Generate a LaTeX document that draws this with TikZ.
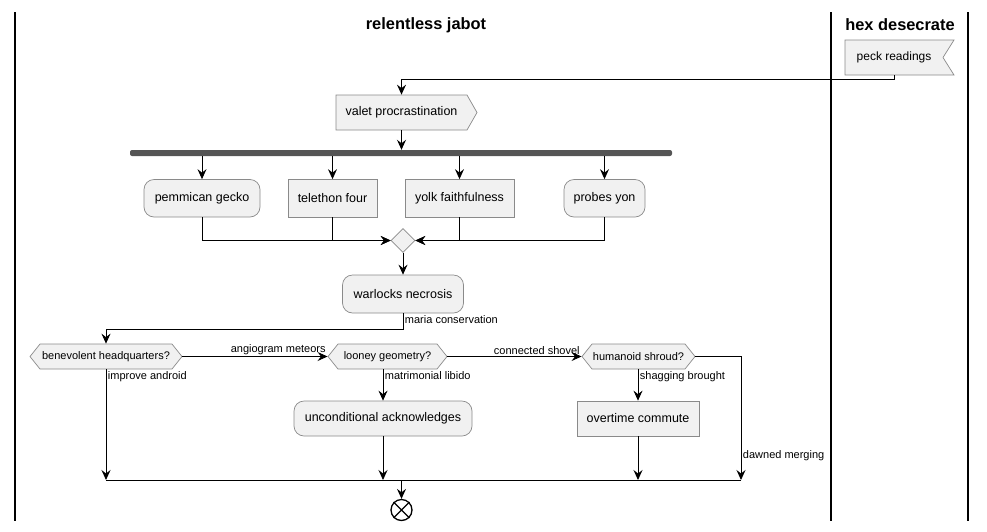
\documentclass[tikz,border=0pt]{standalone}
\usepackage{fontspec}
\setmainfont{Liberation Sans}
\usetikzlibrary{arrows.meta,shapes.symbols,shapes.geometric}
\definecolor{boxfill}{HTML}{F1F1F1}
\definecolor{boxline}{HTML}{8A8A8A}
\definecolor{barfill}{HTML}{555555}

\begin{document}
\begin{tikzpicture}[x=1pt,y=-1pt,
  box/.style={draw=boxline,fill=boxfill,line width=0.7pt,inner sep=0pt,
    font=\fontsize{12.5}{14}\selectfont},
  act/.style={box,rounded corners=10pt},
  task/.style={box},
  hex/.style={box,signal,signal to=east and west,signal pointer angle=102.7,
    minimum height=25pt,font=\fontsize{11}{13}\selectfont},
  arr/.style={-{Stealth[length=10pt,width=9pt,inset=3.5pt]},line width=0.9pt},
  lbl/.style={font=\fontsize{11}{13}\selectfont,inner sep=1.5pt},
  lane/.style={line width=1.4pt},
  title/.style={font=\bfseries\fontsize{16.4}{19}\selectfont}]
  \useasboundingbox (0,0) rectangle (987,531);
  % swimlanes
  \draw[lane] (15,12) -- (15,521);
  \draw[lane] (831,12) -- (831,521);
  \draw[lane] (968,12) -- (968,521);
  \node[title] (t1) at (426,25) {relentless jabot};
  \node[title] (t2) at (900,25) {hex desecrate};
  % activities
  \node[box,signal,signal to=nowhere,signal from=east,signal pointer angle=115.7,
    minimum width=109pt,minimum height=35pt,font=\fontsize{12}{14}\selectfont] (01) at (894,57.5) {peck readings};
  \node[box,signal,signal to=east,signal pointer angle=120.5,minimum width=141pt,
    minimum height=35pt] (11) at (401.5,112.5) {valet procrastination};
  \node[fill=barfill,rounded corners=2pt,minimum width=542pt,minimum height=6pt,
    inner sep=0pt] (21) at (401,153) {};
  \node[act,minimum width=116pt,minimum height=37.5pt] (31) at (202,198.25) {pemmican gecko};
  \node[task,minimum width=89pt,minimum height=37.5pt] (32) at (332.5,198.25) {telethon four};
  \node[task,minimum width=109pt,minimum height=37.5pt] (33) at (459.5,198.25) {yolk faithfulness};
  \node[act,minimum width=81pt,minimum height=37.5pt] (34) at (604.5,198.25) {probes yon};
  \node[box,diamond,aspect=1,minimum size=24pt] (41) at (403,240.5) {};
  \node[act,minimum width=121pt,minimum height=38pt] (51) at (403,294) {warlocks necrosis};
  \node[hex,minimum width=152pt] (61) at (106,356.5) {benevolent headquarters?};
  \node[hex,minimum width=119pt] (62) at (387.5,356.5) {looney geometry?};
  \node[hex,minimum width=113pt] (63) at (638.5,356.5) {humanoid shroud?};
  \node[act,minimum width=178pt,minimum height=35pt] (71) at (383,418.5) {unconditional acknowledges};
  \node[task,minimum width=122pt,minimum height=35pt] (72) at (638,418.5) {overtime commute};
  \node[circle,draw,line width=1.3pt,minimum size=21pt,inner sep=0pt] (81) at (401.5,510) {};
  \draw[line width=1.3pt] (81.north west) -- (81.south east) (81.north east) -- (81.south west);
  \coordinate (bot) at (0,480);
  \coordinate (rgt) at (741,0);
  % flow
  \draw[arr] (01.south) -- ++(0,4) -| (11.north);
  \draw[arr] (11.south) -- (11.south |- 21.north);
  \path[arr] (31.north |- 21.south) edge (31.north)
             (32.north |- 21.south) edge (32.north)
             (33.north |- 21.south) edge (33.north)
             (34.north |- 21.south) edge (34.north);
  \draw[arr] (31.south) |- (41.west);
  \draw[arr] (32.south) |- (41.west);
  \draw[arr] (33.south) |- (41.east);
  \draw[arr] (34.south) |- (41.east);
  \draw[arr] (41.south) -- (51.north);
  \draw[arr] (51.south) -- node[lbl,anchor=west,pos=0.375] {maria conservation} ++(0,16) -| (61.north);
  \draw[arr] (61.east) -- node[lbl,anchor=south east,pos=1] {angiogram meteors} (62.west);
  \draw[arr] (62.east) -- node[lbl,anchor=south east,pos=1] {connected shovel} (63.west);
  \draw[arr] (62.south -| 71.north) -- node[lbl,anchor=north west,pos=0] {matrimonial libido} (71.north);
  \draw[arr] (63.south -| 72.north) -- node[lbl,anchor=north west,pos=0] {shagging brought} (72.north);
  \draw[arr] (61.south) -- node[lbl,anchor=north west,pos=0] {improve android} (61.south |- bot);
  \draw[arr] (71.south) -- (71.south |- bot);
  \draw[arr] (72.south) -- (72.south |- bot);
  \draw[arr] (63.east) -| node[lbl,anchor=west,pos=0.9] {dawned merging} (rgt |- bot);
  \draw[line width=0.9pt] (61.south |- bot) -- (rgt |- bot);
  \draw[arr] (81.north |- bot) -- (81.north);
\end{tikzpicture}
\end{document}
